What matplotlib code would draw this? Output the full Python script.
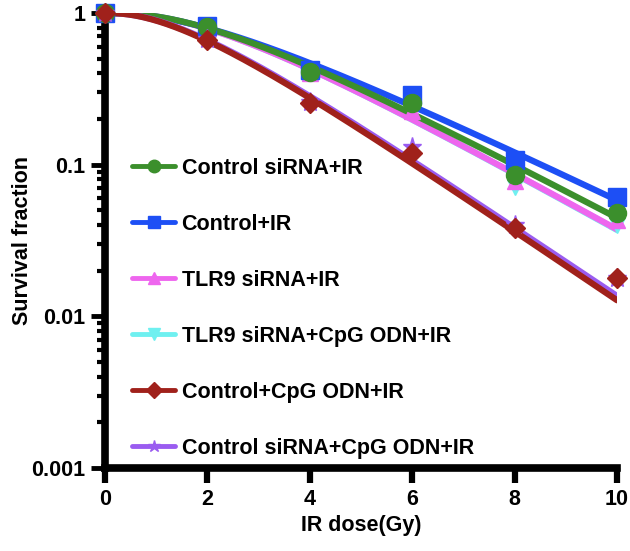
import numpy as np
import matplotlib
matplotlib.use('Agg')
import matplotlib.pyplot as plt
from matplotlib.lines import Line2D
from matplotlib.ticker import LogLocator, FuncFormatter, NullFormatter

plt.rcParams['font.family'] = ['Liberation Sans', 'DejaVu Sans']
plt.rcParams['font.weight'] = 'bold'

# survival data
dose = [0, 2, 4, 6, 8, 10]
ctrl_sirna_ir = [1.0, 0.81, 0.41, 0.255, 0.085, 0.048]
ctrl_ir = [1.0, 0.82, 0.42, 0.29, 0.107, 0.061]
tlr9_sirna_ir = [1.0, 0.80, 0.40, 0.225, 0.078, 0.043]
tlr9_sirna_cpg_ir = [1.0, 0.80, 0.40, 0.23, 0.071, 0.040]
ctrl_cpg_ir = [1.0, 0.66, 0.255, 0.12, 0.038, 0.018]
ctrl_sirna_cpg_ir = [1.0, 0.67, 0.26, 0.13, 0.040, 0.018]

labels = ['Control siRNA+IR', 'Control+IR', 'TLR9 siRNA+IR',
          'TLR9 siRNA+CpG ODN+IR', 'Control+CpG ODN+IR',
          'Control siRNA+CpG ODN+IR']
series = [ctrl_sirna_ir, ctrl_ir, tlr9_sirna_ir, tlr9_sirna_cpg_ir,
          ctrl_cpg_ir, ctrl_sirna_cpg_ir]
colors = ['#3b8f2c', '#1d4ff5', '#ee66ee', '#6ff0f0', '#a0211b', '#9a5cf0']
markers = ['o', 's', '^', 'v', 'D', '*']
msizes = [13, 13, 12, 12, 10, 14]
# drawing order (GraphPad-like stacking)
zorders = [5, 4, 3, 2, 7, 6]


def fit_multitarget(x, y):
    """Single-hit multi-target fit, S = 1 - (1 - exp(-D/D0))^n, least squares on S."""
    x = np.asarray(x, float)
    y = np.asarray(y, float)
    d0 = np.linspace(0.8, 4.0, 321)[:, None, None]
    n = np.linspace(1.0, 8.0, 281)[None, :, None]
    pred = 1 - (1 - np.exp(-x[None, None, :] / d0)) ** n
    err = ((pred - y) ** 2).sum(axis=2)
    i, j = np.unravel_index(np.argmin(err), err.shape)
    return d0[i, 0, 0], n[0, j, 0]


fig = plt.figure(figsize=(6.3, 5.51), dpi=100)
ax = fig.add_axes([0.1667, 0.1506, 0.8127, 0.8258])

xs = np.linspace(0, 10, 200)
handles = []
for vals, lab, c, m, ms, z in zip(series, labels, colors, markers, msizes, zorders):
    d0, n = fit_multitarget(dose, vals)
    curve = 1 - (1 - np.exp(-xs / d0)) ** n
    ax.plot(xs, curve, color=c, lw=4.5, zorder=z, solid_capstyle='round')
    ax.plot(dose, vals, linestyle='none', marker=m, ms=ms, color=c,
            mec=c, zorder=z + 10, clip_on=False)
    handles.append(Line2D([], [], color=c, lw=3.5, marker=m,
                          ms=8 if m == 'D' else 9,
                          solid_capstyle='round', label=lab))

ax.set_yscale('log')
ax.set_xlim(0, 10)
ax.set_ylim(0.001, 1)
ax.set_xticks([0, 2, 4, 6, 8, 10])
ax.yaxis.set_major_locator(LogLocator(base=10, numticks=10))
ax.yaxis.set_minor_locator(LogLocator(base=10, subs=np.arange(2, 10), numticks=10))
ax.yaxis.set_major_formatter(FuncFormatter(lambda v, p: '%g' % v))
ax.yaxis.set_minor_formatter(NullFormatter())

for s in ['top', 'right']:
    ax.spines[s].set_visible(False)
for s in ['left', 'bottom']:
    ax.spines[s].set_linewidth(5.5)
    ax.spines[s].set_capstyle('projecting')

ax.tick_params(axis='both', which='major', length=10, width=3.5,
               labelsize=15.5, direction='out', pad=4)
ax.tick_params(axis='y', which='minor', length=6, width=3, direction='out')
ax.tick_params(axis='x', which='major', length=11, width=4.5)

ax.set_xlabel('IR dose(Gy)', fontsize=15.5, fontweight='bold', labelpad=4)
ax.set_ylabel('Survival fraction', fontsize=15.5, fontweight='bold')
ax.yaxis.set_label_coords(-0.14, 0.5)

leg = ax.legend(handles=handles, loc='center left', bbox_to_anchor=(0.036, 0.351),
                frameon=False, fontsize=15.5, labelspacing=1.63, handlelength=2.0,
                handletextpad=0.3, borderaxespad=0)
for t in leg.get_texts():
    t.set_fontweight('bold')

fig.savefig('out.png', dpi=100)
